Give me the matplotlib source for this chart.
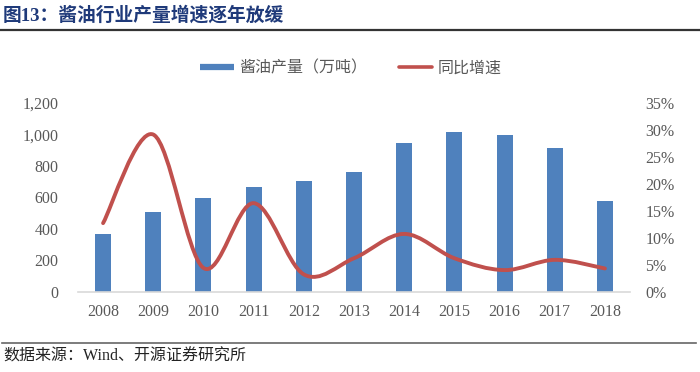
import matplotlib
matplotlib.use("Agg")
import matplotlib.pyplot as plt
from matplotlib.path import Path
from matplotlib.patches import PathPatch
from matplotlib.lines import Line2D
import numpy as np

years = ["2008", "2009", "2010", "2011", "2012", "2013", "2014", "2015", "2016", "2017", "2018"]
output = [366, 504, 597, 663, 703, 758, 942, 1016, 995, 914, 578]
growth = [12.7, 29.1, 4.4, 16.4, 3.2, 6.2, 10.7, 6.2, 4.0, 5.9, 4.3]
left_ticks = [0, 200, 400, 600, 800, 1000, 1200]
right_ticks = [0, 5, 10, 15, 20, 25, 30, 35]
title = "图13：酱油行业产量增速逐年放缓"
source = "数据来源：Wind、开源证券研究所"
legend_labels = ["酱油产量（万吨）", "同比增速"]

BLUE = "#4F81BD"
RED = "#C0504D"
GREY = "#595959"

serif = ["Liberation Serif", "Noto Sans CJK SC"]
sans = ["Noto Sans CJK SC", "DejaVu Sans"]

fig = plt.figure(figsize=(7.0, 3.72), dpi=100)
ax = fig.add_axes([78 / 700, 1 - 291.7 / 372, (630 - 78) / 700, (291.7 - 102.7) / 372])
x = np.arange(len(years))
ax.bar(x, output, width=0.32, color=BLUE, zorder=2)
ax.set_xlim(-0.5, len(years) - 0.5)
ax.set_ylim(0, 1200)
ax.set_yticks(left_ticks)
ax.set_yticklabels([f"{v:,}" for v in left_ticks], family=serif, fontsize=11.5, color=GREY)
ax.set_xticks(x)
ax.set_xticklabels(years, family=serif, fontsize=11.5, color=GREY)
ax.tick_params(axis="x", length=0, pad=9)
ax.tick_params(axis="y", length=0, pad=14)
for s in ["top", "right", "left"]:
    ax.spines[s].set_visible(False)
ax.spines["bottom"].set_color("#D9D9D9")
ax.spines["bottom"].set_linewidth(1.2)

ax2 = ax.twinx()
ax2.set_ylim(0, 35)
ax2.set_yticks(right_ticks)
ax2.set_yticklabels([f"{v}%" for v in right_ticks], family=serif, fontsize=11.5, color=GREY)
ax2.tick_params(length=0, pad=11)
for s in ax2.spines.values():
    s.set_visible(False)

# Smoothed line (Excel-style Catmull-Rom Bezier) through the data points
pts = np.column_stack([x, growth]).astype(float)
verts = [tuple(pts[0])]
codes = [Path.MOVETO]
n = len(pts)
for i in range(n - 1):
    p0 = pts[i - 1] if i > 0 else pts[i]
    p1 = pts[i]
    p2 = pts[i + 1]
    p3 = pts[i + 2] if i + 2 < n else pts[i + 1]
    c1 = p1 + (p2 - p0) / 6.0
    c2 = p2 - (p3 - p1) / 6.0
    verts += [tuple(c1), tuple(c2), tuple(p2)]
    codes += [Path.CURVE4] * 3
ax2.add_patch(PathPatch(Path(verts, codes), facecolor="none", edgecolor=RED,
                        linewidth=2.8, capstyle="round", zorder=3))

handles = [Line2D([], [], color=BLUE, lw=4.5, solid_capstyle="butt"),
           Line2D([], [], color=RED, lw=2.6, solid_capstyle="round")]
fig.legend(handles, legend_labels, loc="center", bbox_to_anchor=(351 / 700, 1 - 68 / 372),
           ncol=2, frameon=False, prop={"family": sans, "size": 11.5},
           labelcolor=GREY, handlelength=2.1, handletextpad=0.35, columnspacing=1.95)

fig.text(3 / 700, 1 - 15 / 372, title, family=serif, fontsize=13.5, fontweight="bold",
         color="#1F3A7A", ha="left", va="center")
fig.add_artist(Line2D([0, 1], [1 - 29.5 / 372] * 2, color="#333333", lw=1.6))
fig.add_artist(Line2D([2 / 700, 696 / 700], [1 - 343 / 372] * 2, color="#666666", lw=1.2))
fig.text(3 / 700, 1 - 357 / 372, source, family=serif, fontsize=11.5, color="#222222",
         ha="left", va="center")

fig.savefig("out.png", dpi=100)
